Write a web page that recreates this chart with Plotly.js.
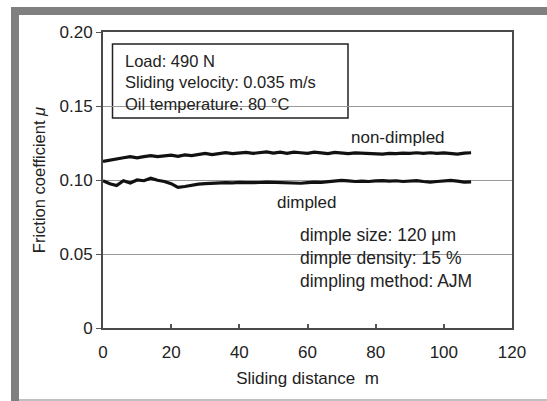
<!DOCTYPE html>
<html>
<head>
<meta charset="utf-8">
<script src="https://cdn.plot.ly/plotly-3.0.1.min.js"></script>
<style>
  html, body { margin: 0; padding: 0; background: #fff; }
  #wrap { position: relative; width: 547px; height: 401px; overflow: hidden; }
  #chart { position: absolute; left: 0; top: 0; width: 547px; height: 401px; }
  .band { position: absolute; background: #808080; }
</style>
</head>
<body>
<div id="wrap">
  <div id="chart"></div>
  <div class="band" style="left:11px; top:7px; width:536px; height:8px;"></div>
  <div class="band" style="left:11px; top:7px; width:8px; height:394px;"></div>
  <div class="band" style="left:19px; top:399px; width:528px; height:2px; background:#c0c0c0;"></div>
</div>
<script>
// Sliding distance (m)
const distance = [0,2,4,6,8,10,12,14,16,18,20,22,24,26,28,30,32,34,36,38,40,42,44,46,48,50,52,54,56,58,60,62,64,66,68,70,72,74,76,78,80,82,84,86,88,90,92,94,96,98,100,102,104,106,108];
// Friction coefficient, non-dimpled
const nonDimpled = [0.1125,0.1135,0.1142,0.1150,0.1158,0.1150,0.1158,0.1165,0.1158,0.1162,0.1168,0.1160,0.1170,0.1165,0.1175,0.1180,0.1172,0.1178,0.1185,0.1178,0.1182,0.1186,0.1180,0.1186,0.1190,0.1182,0.1188,0.1180,0.1188,0.1184,0.1180,0.1188,0.1183,0.1178,0.1186,0.1182,0.1178,0.1183,0.1180,0.1182,0.1178,0.1175,0.1180,0.1178,0.1182,0.1180,0.1184,0.1180,0.1184,0.1180,0.1183,0.1179,0.1175,0.1182,0.1184];
// Friction coefficient, dimpled
const dimpled = [0.0995,0.0975,0.0962,0.0995,0.0980,0.1000,0.0995,0.1012,0.0998,0.0990,0.0975,0.0950,0.0956,0.0965,0.0972,0.0975,0.0978,0.0978,0.0982,0.0980,0.0984,0.0982,0.0985,0.0983,0.0985,0.0984,0.0982,0.0980,0.0976,0.0978,0.0982,0.0986,0.0984,0.0988,0.0992,0.0998,0.0994,0.0990,0.0992,0.0990,0.0994,0.0996,0.0992,0.0995,0.0990,0.0994,0.0996,0.0990,0.0986,0.0990,0.0994,0.0998,0.0992,0.0986,0.0988];

const xTicks = [0,20,40,60,80,100,120];
const yTicks = [0,0.05,0.10,0.15,0.20];
const yTickText = ["0","0.05","0.10","0.15","0.20"];

const FONT = 'Arial, "Liberation Sans", sans-serif';
const TXT = '#222';

const traces = [
  { x: distance, y: nonDimpled, mode: 'lines', name: 'non-dimpled',
    line: { color: '#111', width: 3.2 }, hoverinfo: 'skip' },
  { x: distance, y: dimpled, mode: 'lines', name: 'dimpled',
    line: { color: '#111', width: 3.2 }, hoverinfo: 'skip' }
];

// pixel helpers (plot area: x 103..512, y 32..328)
const px = v => (v - 103) / 409;
const py = v => (328 - v) / 296;

const layout = {
  width: 547, height: 401,
  margin: { l: 103, r: 35, t: 32, b: 73 },
  paper_bgcolor: '#fff', plot_bgcolor: '#fff',
  showlegend: false,
  font: { family: FONT, size: 17, color: TXT },
  xaxis: {
    range: [0, 120], tickvals: xTicks, ticks: 'inside', ticklen: 4, tickwidth: 2, tickcolor: '#555',
    showline: true, linecolor: '#4a4a4a', linewidth: 2, mirror: true,
    showgrid: false, zeroline: false, ticklabelstandoff: 8,
    tickfont: { family: FONT, size: 17, color: TXT },
    title: { text: 'Sliding distance  m', font: { family: FONT, size: 17, color: TXT }, standoff: 11 }
  },
  yaxis: {
    range: [0, 0.2], tickvals: yTicks, ticktext: yTickText, ticks: 'outside', ticklen: 5, tickcolor: '#555',
    showline: true, linecolor: '#4a4a4a', linewidth: 2, mirror: true,
    showgrid: true, gridcolor: '#999', gridwidth: 1, zeroline: false,
    tickfont: { family: FONT, size: 17, color: TXT },
    title: { text: 'Friction coefficient <i>μ</i>', font: { family: FONT, size: 16.5, color: TXT }, standoff: 10 }
  },
  shapes: [
    { type: 'rect', xref: 'paper', yref: 'paper', layer: 'between',
      x0: px(112.5), x1: px(348), y0: py(118), y1: py(44),
      fillcolor: '#fff', line: { color: '#222', width: 1.5 } },
    { type: 'rect', xref: 'paper', yref: 'paper', layer: 'between',
      x0: px(285), x1: px(493), y0: py(292), y1: py(224),
      fillcolor: '#fff', line: { width: 0 } }
  ],
  annotations: [
    { xref: 'paper', yref: 'paper', x: px(123), y: py(82.5), xanchor: 'left', yanchor: 'middle', align: 'left',
      showarrow: false, text: 'Load: 490 N<br>Sliding velocity: 0.035 m/s<br>Oil temperature: 80 °C',
      font: { family: FONT, size: 16.5, color: TXT } },
    { xref: 'paper', yref: 'paper', x: px(398), y: py(137), xanchor: 'center', yanchor: 'middle',
      showarrow: false, text: 'non-dimpled', font: { family: FONT, size: 17, color: TXT } },
    { xref: 'paper', yref: 'paper', x: px(307), y: py(202), xanchor: 'center', yanchor: 'middle',
      showarrow: false, text: 'dimpled', font: { family: FONT, size: 17, color: TXT } },
    { xref: 'paper', yref: 'paper', x: px(298), y: py(258), xanchor: 'left', yanchor: 'middle', align: 'left',
      showarrow: false, text: 'dimple size: 120 μm<br>dimple density: 15 %<br>dimpling method: AJM',
      font: { family: FONT, size: 17.5, color: TXT } }
  ]
};

Plotly.newPlot('chart', traces, layout, { staticPlot: true, displayModeBar: false });
</script>
</body>
</html>
